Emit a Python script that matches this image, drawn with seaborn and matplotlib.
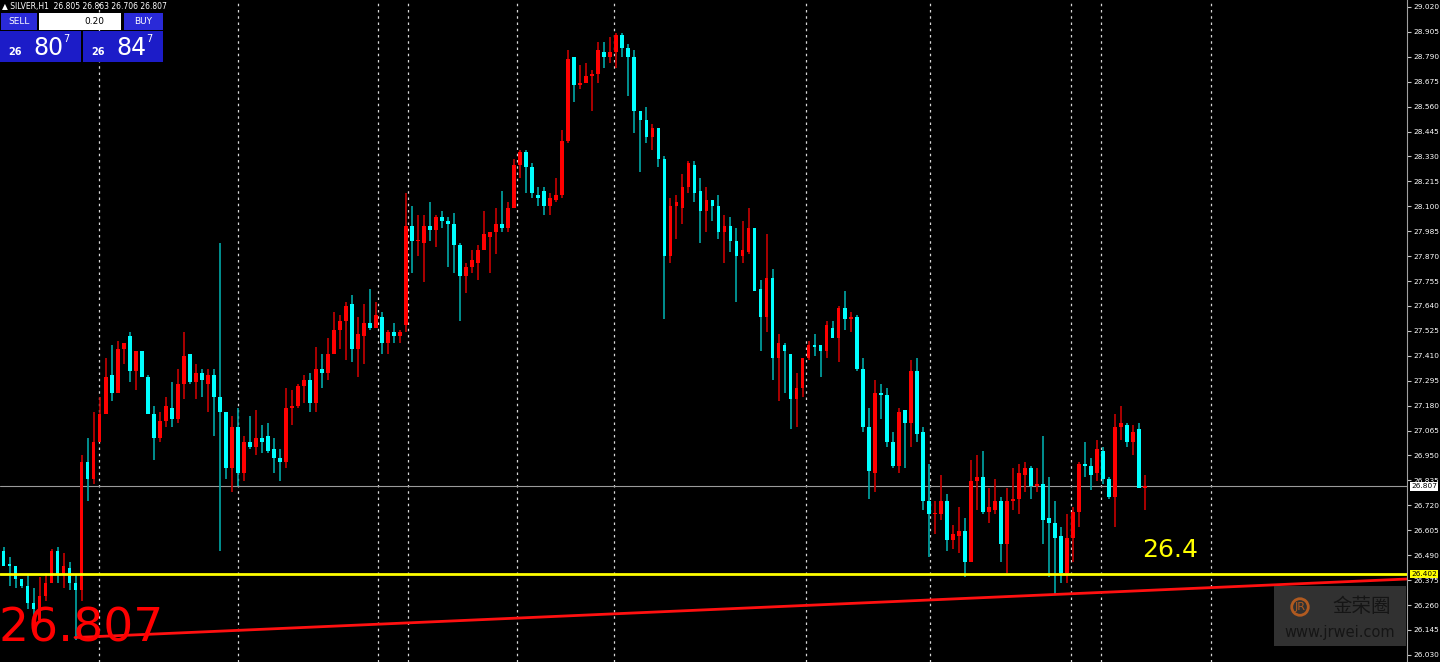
import matplotlib
matplotlib.use("Agg")
import numpy as np
import pandas as pd
import matplotlib.pyplot as plt
import seaborn as sns
from matplotlib.patches import Rectangle

# hourly SILVER candles (open, high, low, close)
opens = [26.51, 26.45, 26.44, 26.38, 26.35, 26.27, 26.19, 26.30, 26.36, 26.51,
         26.40, 26.43, 26.36, 26.33, 26.92, 26.84, 27.01, 27.14, 27.32, 27.24,
         27.44, 27.50, 27.34, 27.43, 27.31, 27.14, 27.03, 27.11, 27.17, 27.12,
         27.28, 27.42, 27.29, 27.33, 27.28, 27.32, 27.22, 27.15, 26.89, 27.08,
         26.87, 27.01, 26.99, 27.03, 27.04, 26.98, 26.94, 26.92, 27.17, 27.18,
         27.27, 27.30, 27.19, 27.35, 27.33, 27.42, 27.53, 27.57, 27.65, 27.44,
         27.50, 27.56, 27.54, 27.59, 27.47, 27.52, 27.50, 27.55, 28.01, 27.94,
         27.93, 28.01, 27.99, 28.05, 28.03, 28.02, 27.92, 27.78, 27.82, 27.84,
         27.90, 27.96, 27.98, 28.02, 28.00, 28.09, 28.29, 28.35, 28.28, 28.15,
         28.17, 28.10, 28.13, 28.15, 28.40, 28.79, 28.66, 28.67, 28.70, 28.71,
         28.81, 28.79, 28.81, 28.89, 28.83, 28.79, 28.54, 28.50, 28.42, 28.46,
         28.32, 27.87, 28.10, 28.09, 28.19, 28.29, 28.17, 28.08, 28.13, 28.10,
         27.98, 28.01, 27.94, 27.87, 27.89, 28.00, 27.72, 27.59, 27.77, 27.40,
         27.46, 27.42, 27.21, 27.26, 27.40, 27.46, 27.46, 27.43, 27.54, 27.49,
         27.63, 27.58, 27.59, 27.35, 27.08, 26.87, 27.24, 27.23, 27.01, 26.90,
         27.16, 27.10, 27.34, 27.06, 26.74, 26.68, 26.68, 26.74, 26.56, 26.58,
         26.60, 26.46, 26.83, 26.85, 26.69, 26.70, 26.74, 26.54, 26.74, 26.75,
         26.86, 26.89, 26.81, 26.82, 26.66, 26.64, 26.58, 26.41, 26.57, 26.69,
         26.91, 26.90, 26.87, 26.97, 26.84, 26.76, 27.08, 27.09, 27.01, 27.07,
         26.80]
highs = [26.53, 26.48, 26.44, 26.38, 26.40, 26.34, 26.39, 26.41, 26.52, 26.53,
         26.50, 26.46, 26.40, 26.95, 27.03, 27.15, 27.22, 27.40, 27.46, 27.48,
         27.47, 27.52, 27.43, 27.43, 27.32, 27.18, 27.15, 27.22, 27.29, 27.35,
         27.52, 27.42, 27.37, 27.35, 27.35, 27.35, 27.93, 27.15, 27.13, 27.17,
         27.04, 27.13, 27.16, 27.09, 27.10, 27.03, 26.98, 27.26, 27.25, 27.28,
         27.32, 27.33, 27.45, 27.42, 27.49, 27.61, 27.60, 27.66, 27.69, 27.59,
         27.65, 27.72, 27.66, 27.61, 27.53, 27.56, 27.53, 28.16, 28.10, 28.06,
         28.06, 28.12, 28.06, 28.08, 28.05, 28.07, 27.93, 27.84, 27.90, 27.92,
         28.08, 27.98, 28.09, 28.17, 28.12, 28.32, 28.36, 28.36, 28.30, 28.19,
         28.19, 28.16, 28.23, 28.45, 28.82, 28.79, 28.75, 28.76, 28.73, 28.86,
         28.86, 28.88, 28.90, 28.90, 28.85, 28.82, 28.54, 28.56, 28.48, 28.46,
         28.33, 28.14, 28.15, 28.25, 28.31, 28.31, 28.23, 28.19, 28.13, 28.15,
         28.06, 28.05, 28.00, 28.03, 28.09, 28.00, 27.76, 27.97, 27.81, 27.51,
         27.47, 27.42, 27.33, 27.40, 27.48, 27.51, 27.46, 27.57, 27.57, 27.64,
         27.71, 27.61, 27.60, 27.40, 27.17, 27.30, 27.28, 27.26, 27.06, 27.17,
         27.16, 27.39, 27.40, 27.08, 26.91, 26.74, 26.86, 26.77, 26.63, 26.71,
         26.66, 26.93, 26.95, 26.97, 26.80, 26.84, 26.76, 26.80, 26.89, 26.91,
         26.92, 26.90, 26.89, 27.04, 26.85, 26.74, 26.62, 26.68, 26.71, 26.92,
         27.01, 26.94, 27.02, 26.99, 26.85, 27.14, 27.18, 27.10, 27.09, 27.10,
         26.86]
lows = [26.44, 26.35, 26.34, 26.34, 26.24, 26.19, 26.19, 26.28, 26.36, 26.36,
        26.34, 26.33, 26.10, 26.28, 26.74, 26.82, 27.01, 27.14, 27.20, 27.24,
        27.37, 27.29, 27.25, 27.31, 27.14, 26.93, 27.01, 27.08, 27.08, 27.10,
        27.21, 27.28, 27.21, 27.22, 27.15, 27.04, 26.51, 26.84, 26.78, 26.81,
        26.83, 26.98, 26.95, 26.96, 26.96, 26.87, 26.83, 26.89, 27.09, 27.17,
        27.19, 27.15, 27.15, 27.26, 27.30, 27.42, 27.44, 27.39, 27.38, 27.31,
        27.37, 27.53, 27.54, 27.42, 27.42, 27.47, 27.47, 27.52, 27.79, 27.87,
        27.75, 27.94, 27.91, 28.00, 27.82, 27.79, 27.57, 27.70, 27.79, 27.76,
        27.90, 27.79, 27.88, 27.98, 27.98, 28.09, 28.23, 28.16, 28.14, 28.10,
        28.06, 28.06, 28.12, 28.14, 28.39, 28.58, 28.64, 28.67, 28.54, 28.67,
        28.74, 28.76, 28.74, 28.79, 28.61, 28.44, 28.26, 28.39, 28.36, 28.28,
        27.58, 27.84, 27.95, 28.02, 28.16, 28.12, 27.93, 27.98, 28.03, 27.95,
        27.84, 27.89, 27.66, 27.84, 27.88, 27.71, 27.43, 27.52, 27.30, 27.20,
        27.24, 27.07, 27.08, 27.22, 27.39, 27.41, 27.31, 27.40, 27.49, 27.38,
        27.53, 27.52, 27.34, 27.06, 26.75, 26.78, 27.12, 26.99, 26.89, 26.87,
        26.89, 26.99, 27.01, 26.70, 26.48, 26.59, 26.65, 26.51, 26.52, 26.50,
        26.39, 26.46, 26.70, 26.68, 26.64, 26.68, 26.46, 26.41, 26.70, 26.68,
        26.78, 26.75, 26.78, 26.54, 26.39, 26.31, 26.36, 26.36, 26.46, 26.62,
        26.85, 26.79, 26.83, 26.82, 26.75, 26.62, 27.02, 26.99, 26.95, 26.80,
        26.70]
closes = [26.44, 26.44, 26.38, 26.35, 26.27, 26.24, 26.30, 26.36, 26.51, 26.40,
          26.44, 26.36, 26.33, 26.92, 26.84, 27.01, 27.14, 27.31, 27.24, 27.44,
          27.47, 27.34, 27.43, 27.31, 27.14, 27.03, 27.11, 27.18, 27.12, 27.28,
          27.41, 27.29, 27.33, 27.30, 27.32, 27.22, 27.15, 26.89, 27.08, 26.87,
          27.01, 26.99, 27.03, 27.01, 26.97, 26.94, 26.92, 27.17, 27.18, 27.27,
          27.30, 27.19, 27.35, 27.33, 27.42, 27.53, 27.57, 27.64, 27.44, 27.51,
          27.56, 27.54, 27.60, 27.47, 27.52, 27.50, 27.52, 28.01, 27.94, 27.94,
          28.01, 27.99, 28.05, 28.03, 28.02, 27.92, 27.78, 27.82, 27.85, 27.90,
          27.97, 27.98, 28.02, 28.00, 28.09, 28.29, 28.35, 28.28, 28.16, 28.14,
          28.10, 28.14, 28.15, 28.40, 28.78, 28.66, 28.67, 28.70, 28.71, 28.82,
          28.79, 28.81, 28.89, 28.83, 28.79, 28.54, 28.50, 28.42, 28.46, 28.32,
          27.87, 28.10, 28.12, 28.19, 28.30, 28.16, 28.08, 28.13, 28.10, 27.98,
          28.01, 27.94, 27.87, 27.90, 28.00, 27.71, 27.59, 27.77, 27.40, 27.47,
          27.43, 27.21, 27.26, 27.40, 27.46, 27.45, 27.43, 27.55, 27.49, 27.63,
          27.58, 27.59, 27.35, 27.08, 26.88, 27.24, 27.23, 27.01, 26.90, 27.15,
          27.10, 27.34, 27.05, 26.74, 26.68, 26.68, 26.74, 26.56, 26.59, 26.60,
          26.46, 26.83, 26.85, 26.69, 26.71, 26.74, 26.54, 26.74, 26.75, 26.87,
          26.89, 26.81, 26.82, 26.65, 26.64, 26.57, 26.41, 26.57, 26.69, 26.91,
          26.90, 26.86, 26.98, 26.84, 26.76, 27.08, 27.10, 27.01, 27.06, 26.80,
          26.807]

last_price = 26.807
support_level = 26.402
support_label = "26.4"
trend_start = (12.9, 26.11)
trend_end = (234.6, 26.38)
day_breaks = [16.9, 40.1, 63.25, 68.4, 86.4, 102.6, 134.6, 155.25, 178.6, 183.6, 201.9]
price_ticks = [29.020, 28.905, 28.790, 28.675, 28.560, 28.445, 28.330, 28.215, 28.100,
               27.985, 27.870, 27.755, 27.640, 27.525, 27.410, 27.295, 27.180, 27.065,
               26.950, 26.835, 26.720, 26.605, 26.490, 26.375, 26.260, 26.145, 26.030]

df = pd.DataFrame({"open": opens, "high": highs, "low": lows, "close": closes})
df["bar"] = np.arange(1, len(df) + 1)
df["up"] = df["close"] >= df["open"]

sns.set_style("dark", {"axes.facecolor": "black", "figure.facecolor": "black"})
plt.rcParams["font.family"] = ["DejaVu Sans", "Noto Sans CJK SC"]

fig = plt.figure(figsize=(14.4, 6.62), dpi=100)
ax = fig.add_axes([0, 0, 1407 / 1440, 1])
ax.set_facecolor("black")

for xb in day_breaks:
    ax.axvline(xb, color="#d8d8d8", lw=0.9, ls=(0, (2, 3)), zorder=1)

wick_colors = np.where(df["up"], "#c80000", "#00a8a8")
body_colors = np.where(df["up"], "#ff0000", "#00ffff")
ax.vlines(df["bar"], df["low"], df["high"], colors=wick_colors, lw=1.2, zorder=2)
bottoms = df[["open", "close"]].min(axis=1)
heights = (df["open"] - df["close"]).abs().clip(lower=0.006)
ax.bar(df["bar"], heights, bottom=bottoms, width=0.62, color=body_colors,
       linewidth=0, zorder=3)

ax.axhline(last_price, color="#9a9a9a", lw=0.8, zorder=1)
ax.axhline(support_level, color="#ffff00", lw=2, zorder=4)
ax.plot([trend_start[0], trend_end[0]], [trend_start[1], trend_end[1]],
        color="#ff1010", lw=2, zorder=4)

ax.text(0.2, 26.09, "26.807", color="#ff0000", fontsize=34, ha="left",
        va="baseline", zorder=6)
ax.text(190.5, 26.48, support_label, color="#ffff00", fontsize=18,
        ha="left", va="baseline", zorder=6)

ax.set_xlim(0.417, 234.6)
ax.set_ylim(25.997, 29.052)
ax.set_xticks([])
ax.yaxis.tick_right()
ax.set_yticks(price_ticks)
ax.set_yticklabels([f"{t:.3f}" for t in price_ticks])
ax.tick_params(axis="y", colors="#c8c8c8", labelcolor="white", labelsize=5.3,
               direction="out", length=3, pad=1.5)
for side in ["top", "left", "bottom"]:
    ax.spines[side].set_visible(False)
ax.spines["right"].set_color("#a0a0a0")
ax.grid(False)

# price flags on the axis
ax.text(1.003, last_price, "26.807", transform=ax.get_yaxis_transform(),
        fontsize=5.3, color="black", va="center", ha="left", zorder=7,
        bbox=dict(boxstyle="square,pad=0.15", fc="white", ec="none"), clip_on=False)
ax.text(1.003, support_level, "26.402", transform=ax.get_yaxis_transform(),
        fontsize=5.3, color="black", va="center", ha="left", zorder=7,
        bbox=dict(boxstyle="square,pad=0.15", fc="#ffff00", ec="none"), clip_on=False)

# one-click trading panel
def px(x, y):
    return x / 1440, 1 - y / 662

fig.text(*px(2, 6), "▲ SILVER,H1  26.805 26.863 26.706 26.807", color="white",
         fontsize=5.5, va="center")
for x0, y0, w, h, fc in [(1, 13, 36, 17, "#2a2ad8"), (39, 13, 82, 17, "white"),
                          (124, 13, 39, 17, "#2a2ad8"), (0, 31, 81, 31, "#1c1cc8"),
                          (83, 31, 80, 31, "#1c1cc8")]:
    fig.patches.append(Rectangle(px(x0, y0 + h), w / 1440, h / 662,
                                 transform=fig.transFigure, fc=fc, ec="none"))
fig.text(*px(19, 22), "SELL", color="white", fontsize=6.5, ha="center", va="center")
fig.text(*px(143, 22), "BUY", color="white", fontsize=6.5, ha="center", va="center")
fig.text(*px(104, 22), "0.20", color="black", fontsize=6.5, ha="right", va="center")
for x0, big in [(8, "80"), (91, "84")]:
    fig.text(*px(x0, 55), "26", color="white", fontsize=7, fontweight="bold", va="baseline")
    fig.text(*px(x0 + 25, 55), big, color="white", fontsize=17, va="baseline")
    fig.text(*px(x0 + 55, 42), "7", color="white", fontsize=7, va="baseline")

# watermark
fig.patches.append(Rectangle(px(1274, 646), 132 / 1440, 60 / 662,
                             transform=fig.transFigure, fc="#3a3a3a", ec="none", alpha=0.85))
fig.text(*px(1300, 607), "JR", color="#b05a20", fontsize=8, ha="center", va="center",
         bbox=dict(boxstyle="circle,pad=0.25", fc="none", ec="#b05a20", lw=2))
fig.text(*px(1362, 607), "金荣圈", color="#151515", fontsize=14, ha="center",
         va="center", family=["Noto Sans CJK SC", "DejaVu Sans"])
fig.text(*px(1340, 632), "www.jrwei.com", color="#151515", fontsize=10.5,
         ha="center", va="center")

fig.savefig("out.png", dpi=100, facecolor="black")
